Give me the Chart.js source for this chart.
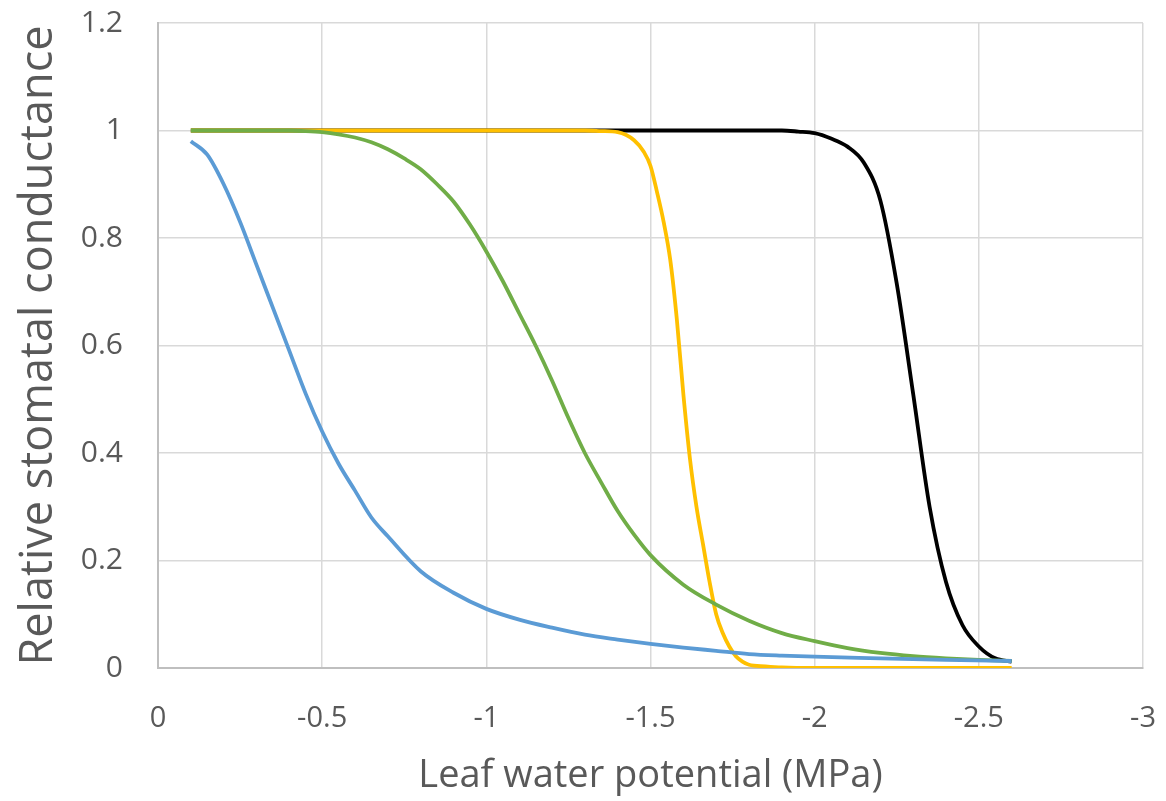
<!DOCTYPE html>
<html>
<head>
<meta charset="utf-8">
<script src="https://cdn.jsdelivr.net/npm/chart.js@4"></script>
<style>
  html, body { margin: 0; padding: 0; background: #fff; }
  #wrap { width: 1166px; height: 801px; }
</style>
</head>
<body>
<div id="wrap"><canvas id="gsChart"></canvas></div>
<script>
// axis ticks
const xTicks = [0, -0.5, -1, -1.5, -2, -2.5, -3];
const yTicks = [0, 0.2, 0.4, 0.6, 0.8, 1, 1.2];

// blue
const blueX = [-0.1, -0.15, -0.2, -0.25, -0.3, -0.35, -0.4, -0.45, -0.5, -0.55, -0.6, -0.65, -0.7, -0.8, -0.9, -1.0, -1.1, -1.2, -1.3, -1.4, -1.5, -1.6, -1.7, -1.8, -1.9, -2.0, -2.2, -2.4, -2.6];
const blueY = [0.98, 0.955, 0.90, 0.83, 0.75, 0.67, 0.59, 0.51, 0.44, 0.38, 0.33, 0.28, 0.245, 0.18, 0.14, 0.11, 0.09, 0.075, 0.062, 0.053, 0.045, 0.038, 0.032, 0.026, 0.023, 0.021, 0.018, 0.015, 0.013];

// green
const greenX = [-0.1, -0.2, -0.3, -0.4, -0.45, -0.5, -0.55, -0.6, -0.65, -0.7, -0.75, -0.8, -0.85, -0.9, -0.95, -1.0, -1.05, -1.1, -1.15, -1.2, -1.25, -1.3, -1.35, -1.4, -1.45, -1.5, -1.6, -1.7, -1.8, -1.9, -2.0, -2.1, -2.2, -2.3, -2.4, -2.5, -2.6];
const greenY = [1.0, 1.0, 1.0, 1.0, 0.999, 0.997, 0.993, 0.987, 0.978, 0.965, 0.948, 0.928, 0.9, 0.868, 0.825, 0.775, 0.72, 0.66, 0.6, 0.535, 0.465, 0.4, 0.345, 0.292, 0.248, 0.21, 0.155, 0.118, 0.088, 0.065, 0.05, 0.037, 0.028, 0.022, 0.018, 0.015, 0.013];

// yellow
const yellowX = [-0.1, -1.3, -1.35, -1.4, -1.45, -1.48, -1.5, -1.52, -1.54, -1.56, -1.58, -1.6, -1.62, -1.64, -1.66, -1.68, -1.7, -1.72, -1.74, -1.76, -1.78, -1.8, -1.85, -1.9, -2.0, -2.3, -2.6];
const yellowY = [1.0, 1.0, 0.999, 0.997, 0.982, 0.96, 0.934, 0.885, 0.83, 0.76, 0.65, 0.51, 0.39, 0.30, 0.23, 0.16, 0.1, 0.065, 0.04, 0.022, 0.012, 0.006, 0.003, 0.001, 0, 0, 0];

// black
const blackX = [-0.1, -1.5, -1.9, -1.95, -2.0, -2.05, -2.1, -2.15, -2.2, -2.25, -2.3, -2.35, -2.4, -2.45, -2.5, -2.55, -2.6];
const blackY = [1.0, 1.0, 1.0, 0.998, 0.995, 0.985, 0.97, 0.94, 0.87, 0.715, 0.51, 0.3, 0.16, 0.08, 0.04, 0.018, 0.012];

function pts(xs, ys) {
    return xs.map((x, i) => ({ x: x, y: ys[i] }));
}

function line(data, color) {
    return {
        data: data,
        borderColor: color,
        borderWidth: 3.8,
        pointRadius: 0,
        fill: false,
        tension: 0.4,
        cubicInterpolationMode: 'monotone'
    };
}

// no extra room for overhanging tick labels, layout padding decides
function noPad(scale) {
    scale.paddingLeft = 0;
    scale.paddingRight = 0;
    scale.paddingTop = 0;
    scale.paddingBottom = 0;
}

const grey = '#595959';

new Chart(document.getElementById('gsChart'), {
    type: 'line',
    data: {
        datasets: [
            line(pts(blueX, blueY), '#5B9BD5'),
            line(pts(greenX, greenY), '#70AD47'),
            line(pts(yellowX, yellowY), '#FFC000'),
            line(pts(blackX, blackY), '#000000')
        ]
    },
    options: {
        responsive: true,
        maintainAspectRatio: false,
        animation: false,
        layout: { padding: { left: 6, right: 23, top: 23, bottom: 0 } },
        plugins: {
            legend: { display: false },
            tooltip: { enabled: false }
        },
        scales: {
            x: {
                type: 'linear',
                reverse: true,
                min: -3,
                max: 0,
                afterBuildTicks: function(scale) {
                    scale.ticks = xTicks.map(v => ({ value: v }));
                },
                afterFit: function(scale) { scale.height = 133; noPad(scale); },
                grid: { color: '#d9d9d9', lineWidth: 1.5, drawTicks: false },
                border: { color: '#bfbfbf', width: 2 },
                ticks: {
                    color: grey,
                    padding: 33,
                    maxRotation: 0,
                    callback: v => String(v),
                    font: { family: 'Open Sans', size: 29 }
                },
                title: {
                    display: true,
                    text: 'Leaf water potential (MPa)',
                    color: grey,
                    padding: { top: 0, bottom: 2 },
                    font: { family: 'Open Sans', size: 38 }
                }
            },
            y: {
                min: 0,
                max: 1.2,
                afterBuildTicks: function(scale) {
                    scale.ticks = yTicks.map(v => ({ value: v }));
                },
                afterFit: function(scale) { scale.width = 152; noPad(scale); },
                grid: { color: '#d9d9d9', lineWidth: 1.5, drawTicks: false },
                border: { color: '#bfbfbf', width: 2 },
                ticks: {
                    color: grey,
                    padding: 35,
                    callback: v => String(v),
                    font: { family: 'Open Sans', size: 30 }
                },
                title: {
                    display: true,
                    text: 'Relative stomatal conductance',
                    color: grey,
                    padding: { top: 6, bottom: 0 },
                    font: { family: 'Open Sans', size: 45 }
                }
            }
        }
    }
});
</script>
</body>
</html>
